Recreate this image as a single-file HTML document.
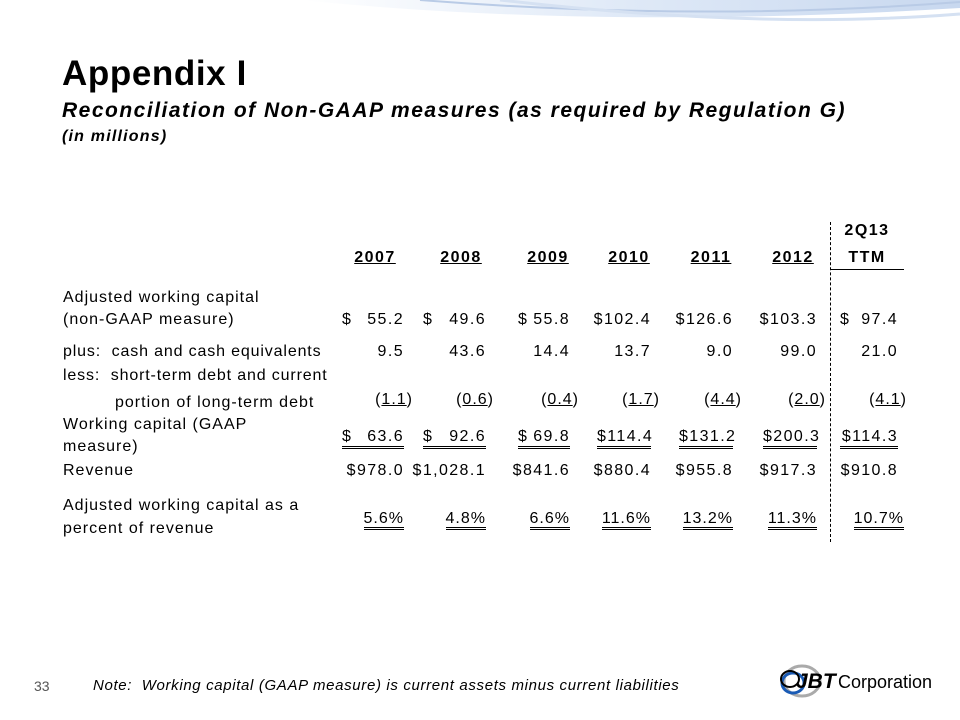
<!DOCTYPE html>
<html><head><meta charset="utf-8"><style>
body{margin:0;width:960px;height:720px;background:#fff;position:relative;overflow:hidden;font-family:"Liberation Sans",Arial,sans-serif;color:#000}
.a{position:absolute;white-space:nowrap;font-size:16px;line-height:18px;letter-spacing:1px}
.n{letter-spacing:1.4px}
.r{text-align:right}
.u{text-decoration:underline}
.du{border-bottom:3px double #000;padding-bottom:0}
.h{font-weight:bold;letter-spacing:1.5px}
</style></head><body>
<svg style="position:absolute;left:0;top:0" width="960" height="40">
<defs><linearGradient id="g" x1="0" x2="1"><stop offset="0" stop-color="#fff"/><stop offset="0.5" stop-color="#dfe9f7"/><stop offset="1" stop-color="#c8d8ef"/></linearGradient></defs>
<path d="M300 0 Q600 30 960 8 L960 0Z" fill="url(#g)"/>
<path d="M420 0 Q700 22 960 2" stroke="#b9cbe6" stroke-width="2" fill="none"/>
<path d="M500 0 Q760 30 960 14" stroke="#d5e1f2" stroke-width="3" fill="none"/>
</svg>
<div class="a" style="left:62px;top:54px;font-size:35px;line-height:40px;font-weight:bold;letter-spacing:0.6px">Appendix I</div>
<div class="a" style="left:62px;top:99px;font-size:21px;line-height:24px;font-weight:bold;font-style:italic;letter-spacing:1.5px">Reconciliation of Non-GAAP measures (as required by Regulation G)</div>
<div class="a" style="left:62px;top:128px;font-size:16px;font-weight:bold;font-style:italic;letter-spacing:1.2px">(in millions)</div>

<div style="position:absolute;left:830px;top:222px;height:320px;border-left:1px dashed #000"></div>

<div class="a h" style="left:836px;top:222px;width:62px;text-align:center">2Q13</div>
<div class="a h u" style="left:348px;top:249px;width:54px;text-align:center">2007</div>
<div class="a h u" style="left:434px;top:249px;width:54px;text-align:center">2008</div>
<div class="a h u" style="left:521px;top:249px;width:54px;text-align:center">2009</div>
<div class="a h u" style="left:602px;top:249px;width:54px;text-align:center">2010</div>
<div class="a h u" style="left:684px;top:249px;width:54px;text-align:center">2011</div>
<div class="a h u" style="left:766px;top:249px;width:54px;text-align:center">2012</div>
<div class="a h" style="left:830px;top:249px;width:74px;text-align:center;border-bottom:1px solid #000;padding-bottom:2px">TTM</div>

<div class="a" style="left:63px;top:289px">Adjusted working capital</div>
<div class="a" style="left:63px;top:311px">(non-GAAP measure)</div>
<div class="a" style="left:63px;top:343px;letter-spacing:0.85px">plus:&nbsp; cash and cash equivalents</div>
<div class="a" style="left:63px;top:367px;letter-spacing:0.85px">less:&nbsp; short-term debt and current</div>
<div class="a" style="left:115px;top:394px">portion of long-term debt</div>
<div class="a" style="left:63px;top:416px">Working capital (GAAP</div>
<div class="a" style="left:63px;top:438px">measure)</div>
<div class="a" style="left:63px;top:462px">Revenue</div>
<div class="a" style="left:63px;top:497px">Adjusted working capital as a</div>
<div class="a" style="left:63px;top:520px">percent of revenue</div>

<div class="a n" style="left:342px;top:311px;width:62px"><span style="float:left">$</span><span style="float:right">55.2</span></div>
<div class="a n" style="left:423px;top:311px;width:63px"><span style="float:left">$</span><span style="float:right">49.6</span></div>
<div class="a n" style="left:518px;top:311px;width:52px"><span style="float:left">$</span><span style="float:right">55.8</span></div>
<div class="a n r" style="left:580px;top:311px;width:71px">$102.4</div>
<div class="a n r" style="left:662px;top:311px;width:71px">$126.6</div>
<div class="a n r" style="left:746px;top:311px;width:71px">$103.3</div>
<div class="a n" style="left:840px;top:311px;width:58px"><span style="float:left">$</span><span style="float:right">97.4</span></div>

<div class="a n r" style="left:342px;top:343px;width:62px">9.5</div>
<div class="a n r" style="left:423px;top:343px;width:63px">43.6</div>
<div class="a n r" style="left:508px;top:343px;width:62px">14.4</div>
<div class="a n r" style="left:580px;top:343px;width:71px">13.7</div>
<div class="a n r" style="left:662px;top:343px;width:71px">9.0</div>
<div class="a n r" style="left:746px;top:343px;width:71px">99.0</div>
<div class="a n r" style="left:840px;top:343px;width:58px">21.0</div>

<div class="a r" style="left:342px;top:391px;width:71px">(<span class="u">1.1</span>)</div>
<div class="a r" style="left:423px;top:391px;width:71px">(<span class="u">0.6</span>)</div>
<div class="a r" style="left:508px;top:391px;width:71px">(<span class="u">0.4</span>)</div>
<div class="a r" style="left:580px;top:391px;width:80px">(<span class="u">1.7</span>)</div>
<div class="a r" style="left:662px;top:391px;width:80px">(<span class="u">4.4</span>)</div>
<div class="a r" style="left:746px;top:391px;width:80px">(<span class="u">2.0</span>)</div>
<div class="a r" style="left:840px;top:391px;width:67px">(<span class="u">4.1</span>)</div>

<div class="a n du" style="left:342px;top:428px;width:62px"><span style="float:left">$</span><span style="float:right">63.6</span></div>
<div class="a n du" style="left:423px;top:428px;width:63px"><span style="float:left">$</span><span style="float:right">92.6</span></div>
<div class="a n du" style="left:518px;top:428px;width:52px"><span style="float:left">$</span><span style="float:right">69.8</span></div>
<div class="a n r du" style="left:597px;top:428px;width:54px">$114.4</div>
<div class="a n r du" style="left:679px;top:428px;width:54px">$131.2</div>
<div class="a n r du" style="left:763px;top:428px;width:54px">$200.3</div>
<div class="a n r du" style="left:840px;top:428px;width:58px">$114.3</div>

<div class="a n r" style="left:330px;top:462px;width:74px">$978.0</div>
<div class="a n r" style="left:405px;top:462px;width:81px">$1,028.1</div>
<div class="a n r" style="left:500px;top:462px;width:70px">$841.6</div>
<div class="a n r" style="left:580px;top:462px;width:71px">$880.4</div>
<div class="a n r" style="left:662px;top:462px;width:71px">$955.8</div>
<div class="a n r" style="left:746px;top:462px;width:71px">$917.3</div>
<div class="a n r" style="left:830px;top:462px;width:68px">$910.8</div>

<div class="a r" style="left:330px;top:510px;width:74px"><span class="du">5.6%</span></div>
<div class="a r" style="left:410px;top:510px;width:76px"><span class="du">4.8%</span></div>
<div class="a r" style="left:500px;top:510px;width:70px"><span class="du">6.6%</span></div>
<div class="a r" style="left:580px;top:510px;width:71px"><span class="du">11.6%</span></div>
<div class="a r" style="left:662px;top:510px;width:71px"><span class="du">13.2%</span></div>
<div class="a r" style="left:746px;top:510px;width:71px"><span class="du">11.3%</span></div>
<div class="a r" style="left:830px;top:510px;width:74px"><span class="du">10.7%</span></div>

<div class="a" style="left:34px;top:677px;font-size:14px;color:#555;letter-spacing:0">33</div>
<div class="a" style="left:93px;top:677px;font-size:15px;font-style:italic;letter-spacing:0.65px">Note:&nbsp; Working capital (GAAP measure) is current assets minus current liabilities</div>

<div style="position:absolute;left:778px;top:660px;width:160px;height:44px">
<svg width="64" height="44" style="position:absolute;left:0;top:0">
<ellipse cx="24" cy="21" rx="18" ry="15" fill="none" stroke="#aaa" stroke-width="3"/>
<ellipse cx="15" cy="23" rx="11" ry="10" fill="none" stroke="#1a5bb5" stroke-width="3"/>
<ellipse cx="12" cy="19" rx="9" ry="8" fill="none" stroke="#000" stroke-width="2"/>
</svg>
<div class="a" style="left:18px;top:11px;font-size:21px;line-height:22px;font-weight:bold;font-style:italic;letter-spacing:0">JBT</div>
<div class="a" style="left:60px;top:11px;font-size:18px;line-height:22px;letter-spacing:0">Corporation</div>
</div>
</body></html>
